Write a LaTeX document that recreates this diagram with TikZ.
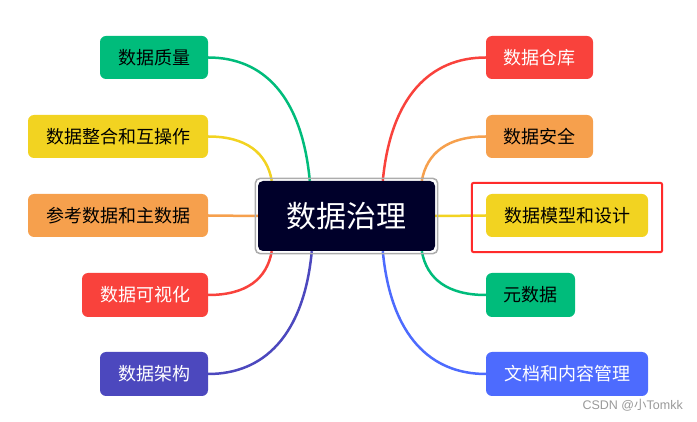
\documentclass[tikz,border=0pt]{standalone}
\usepackage{fontspec}
\setmainfont{Noto Sans CJK SC}
\newfontfamily\wmfont{Liberation Sans}
\usetikzlibrary{calc,backgrounds}
\definecolor{cgreen}{HTML}{00BC7B}
\definecolor{cyellow}{HTML}{F2D321}
\definecolor{corange}{HTML}{F6A04D}
\definecolor{cred}{HTML}{F9423C}
\definecolor{cpurple}{HTML}{4C48BE}
\definecolor{cblue}{HTML}{4D6BFE}
\definecolor{cdark}{HTML}{00002A}
\definecolor{chl}{HTML}{FF2B2B}
\tikzset{
  topic/.style={rounded corners=6pt, minimum height=43pt, inner sep=0pt, font=\fontsize{18}{20}\selectfont},
  link/.style={line width=2.5pt},
}
\begin{document}
\begin{tikzpicture}[x=1pt,y=-1pt]
\useasboundingbox (0,0) rectangle (697,422);
% center
\node[fill=cdark, text=white, rounded corners=5pt, minimum width=177pt, minimum height=70pt, inner sep=0pt, font=\fontsize{30}{34}\selectfont] (c) at (346.5,216) {数据治理};
\draw[gray!65, line width=1.5pt, rounded corners=5pt] ($(c.north west)+(-2.5,-2.5)$) rectangle ($(c.south east)+(2.5,2.5)$);
\coordinate (t1) at ($(c.north west)+(14,0)$);
\coordinate (t2) at ($(c.north west)+(52,0)$);
\coordinate (t3) at ($(c.north west)+(125,0)$);
\coordinate (t4) at ($(c.north west)+(164,0)$);
\coordinate (b1) at ($(c.south west)+(14,0)$);
\coordinate (b2) at ($(c.south west)+(54,0)$);
\coordinate (b3) at ($(c.south west)+(125,0)$);
\coordinate (b4) at ($(c.south west)+(164,0)$);
% left topics
\node[topic, fill=cgreen, minimum width=108pt] (l1) at (154,57.5) {数据质量};
\node[topic, fill=cyellow, minimum width=180pt] (l2) at (118,136.5) {数据整合和互操作};
\node[topic, fill=corange, minimum width=180pt] (l3) at (118,215.5) {参考数据和主数据};
\node[topic, fill=cred, text=white, minimum width=126pt, minimum height=44pt] (l4) at (145,295) {数据可视化};
\node[topic, fill=cpurple, text=white, minimum width=108pt, minimum height=44pt] (l5) at (154,374) {数据架构};
% right topics
\node[topic, fill=cred, text=white, minimum width=107pt] (r1) at (539.5,57.5) {数据仓库};
\node[topic, fill=corange, minimum width=107pt] (r2) at (539.5,136.5) {数据安全};
\node[topic, fill=cyellow, minimum width=162pt] (r3) at (567,215.5) {数据模型和设计};
\node[topic, fill=cgreen, minimum width=89pt, minimum height=44pt] (r4) at (530.5,295) {元数据};
\node[topic, fill=cblue, text=white, minimum width=162pt, minimum height=44pt] (r5) at (567,374) {文档和内容管理};
% connectors (behind nodes)
\begin{scope}[on background layer]
\draw[link, cgreen] (l1.east) .. controls +(55,0) and +(-8,-85) .. (t2);
\draw[link, cyellow] (l2.east) .. controls +(38,0) and +(-5,-28) .. (t1);
\draw[link, corange] (l3.east) -- (c.west);
\draw[link, cred] (l4.east) .. controls +(38,0) and +(-5,28) .. (b1);
\draw[link, cpurple] (l5.east) .. controls +(55,0) and +(-8,85) .. (b2);
\draw[link, cred] (r1.west) .. controls +(-55,0) and +(8,-85) .. (t3);
\draw[link, corange] (r2.west) .. controls +(-38,0) and +(5,-28) .. (t4);
\draw[link, cyellow] (r3.west) -- (c.east);
\draw[link, cgreen] (r4.west) .. controls +(-38,0) and +(5,28) .. (b4);
\draw[link, cblue] (r5.west) .. controls +(-55,0) and +(8,85) .. (b3);
\end{scope}
% highlight
\draw[chl, line width=2pt, rounded corners=2pt] ($(r3.north west)+(-14,-11)$) rectangle ($(r3.south east)+(14,15)$);
% watermark
\node[anchor=east, text=gray!80, inner sep=0pt, font=\fontsize{12.5}{14}\selectfont] (wm) at (683,405) {\wmfont CSDN @\normalfont 小\wmfont Tomkk};
\end{tikzpicture}
\end{document}
